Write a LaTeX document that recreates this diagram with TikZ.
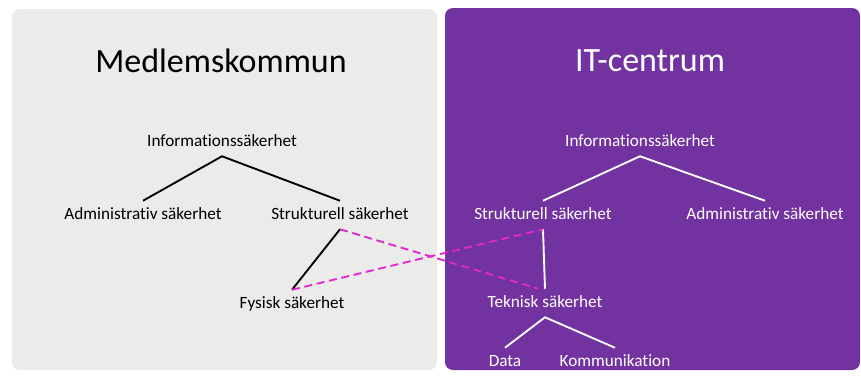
\documentclass[tikz,border=0pt]{standalone}
\usepackage{fontspec}
\setmainfont{Carlito}[Ligatures=NoCommon]
\usetikzlibrary{positioning}
\definecolor{panelgray}{RGB}{235,235,233}
\definecolor{itpurple}{RGB}{114,50,160}
\definecolor{linkmagenta}{RGB}{226,40,205}

\begin{document}
\begin{tikzpicture}[
    x=0.75pt, y=-0.75pt,
    panel/.style={rounded corners=6pt},
    title/.style={font=\fontsize{25.5}{30}\selectfont},
    item/.style={font=\fontsize{12.9}{15}\selectfont, inner sep=0pt,
                 minimum height=21pt, text height=1.6ex, text depth=0.3ex},
    branch/.style={line width=1.4pt},
    link/.style={line width=1.4pt, linkmagenta, dash pattern=on 6pt off 3.5pt}
]
\useasboundingbox (0,0) rectangle (861,379);

% Backgrounds
\fill[panel, panelgray] (12,9) rectangle (437,370);
\fill[panel, itpurple] (445,8) rectangle (860,370);

% Left side: Medlemskommun
\node[title] (title1) at (221,61) {Medlemskommun};
\node[item] (info1) at (222,142) {Informationssäkerhet};
\node[item] (adm1) at (143,215) {Administrativ säkerhet};
\node[item] (str1) at (340,215) {Strukturell säkerhet};
\node[item] (fys1) at (292,304) {Fysisk säkerhet};

\draw[branch] (adm1.north) -- (info1.south) -- (str1.north);
\draw[branch] (str1.south) -- (fys1.north);

% Right side: IT-centrum
\node[title, white] (title2) at (650,61) {IT-centrum};
\node[item, white] (info2) at (640,142) {Informationssäkerhet};
\node[item, white] (str2) at (543,215) {Strukturell säkerhet};
\node[item, white] (adm2) at (765,215) {Administrativ säkerhet};
\node[item, white] (tek2) at (545,303) {Teknisk säkerhet};
\node[item, white] (data2) at (505,362) {Data};
\node[item, white] (komm2) at (615,362) {Kommunikation};

\draw[branch, white] (str2.north) -- (info2.south) -- (adm2.north);
\draw[branch, white] (str2.south) -- (tek2.north);
\draw[branch, white] (data2.north) -- (tek2.south) -- (komm2.north);

% Links between the two
\draw[link] (str1.south) -- ([xshift=-5pt]tek2.north);
\draw[link] (fys1.north) -- (str2.south);

\end{tikzpicture}
\end{document}
